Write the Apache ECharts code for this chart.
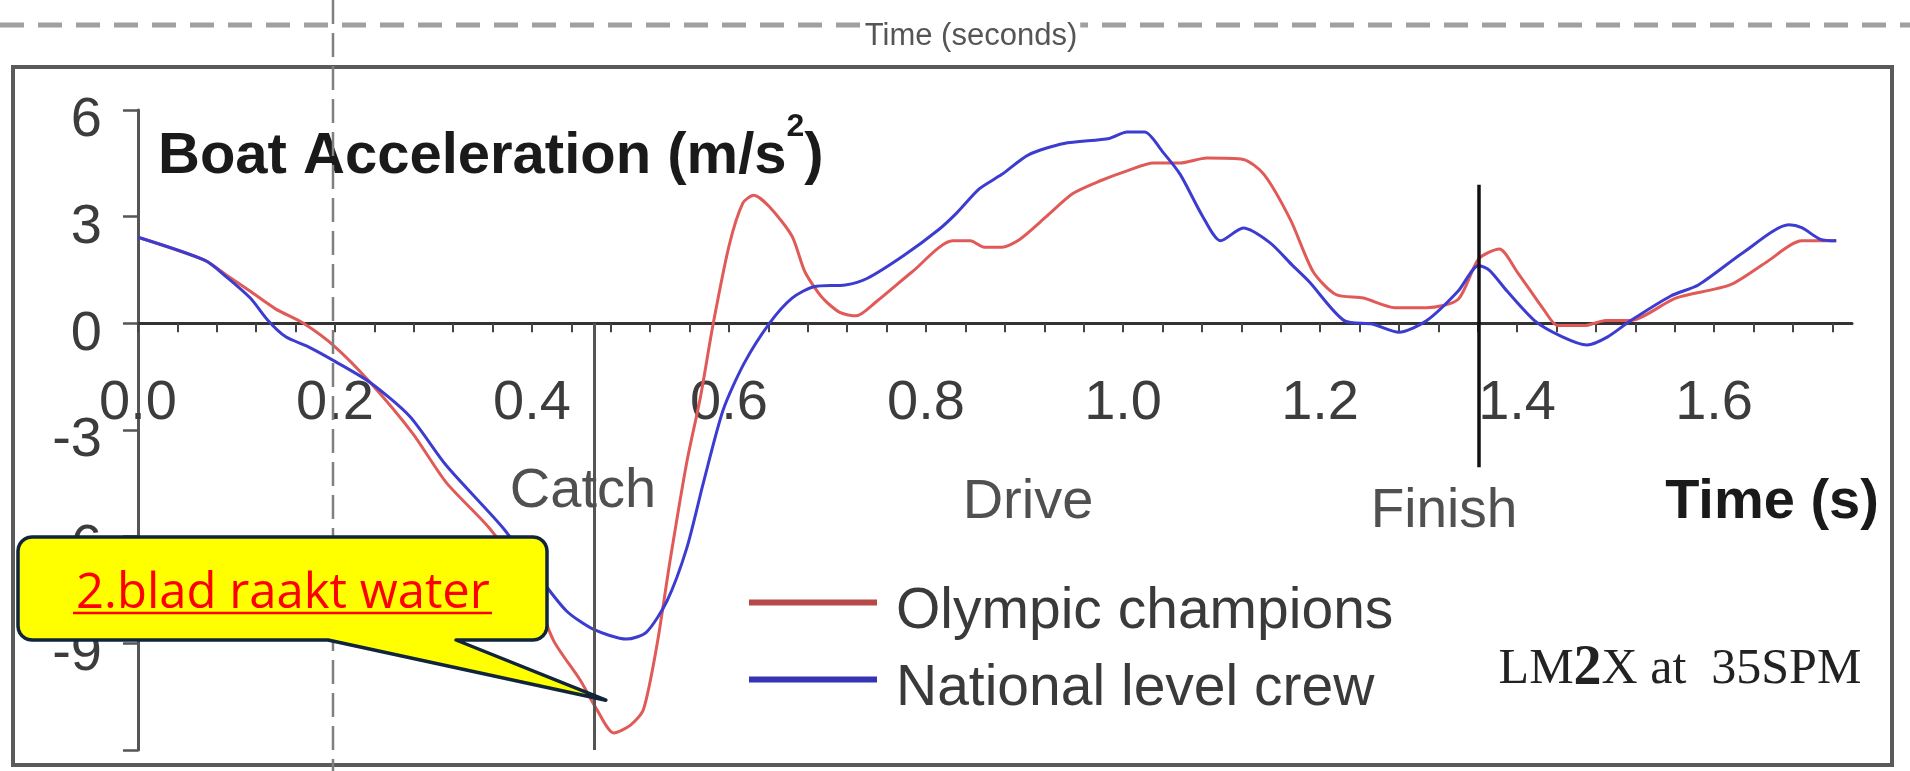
<!DOCTYPE html>
<html><head><meta charset="utf-8">
<script src="https://cdn.jsdelivr.net/npm/echarts@6/dist/echarts.min.js"></script>
<style>html,body{margin:0;padding:0;background:#fff}#c{width:1910px;height:771px}</style>
</head><body><div id="c"></div>
<script>
// ---- data ----
const seriesNames = ['Olympic champions', 'National level crew'];
// [time (s), boat acceleration (m/s^2)]
const olympic = [
  [0, 2.42], [0.068, 1.77], [0.09, 1.35], [0.114, 0.9], [0.14, 0.4], [0.168, 0], [0.2, -0.66],
  [0.236, -1.67], [0.279, -3.1], [0.313, -4.48], [0.357, -5.77], [0.398, -7.35], [0.422, -8.93],
  [0.449, -10.04], [0.466, -10.87], [0.483, -11.52], [0.5, -11.3], [0.513, -10.87], [0.527, -9.02],
  [0.54, -6.7], [0.557, -3.92], [0.571, -2.07], [0.584, 0], [0.6, 2.18], [0.614, 3.38], [0.625, 3.6],
  [0.641, 3.28], [0.664, 2.45], [0.677, 1.45], [0.695, 0.71], [0.713, 0.3], [0.729, 0.21], [0.75, 0.62],
  [0.786, 1.45], [0.827, 2.32], [0.845, 2.32], [0.859, 2.14], [0.877, 2.14], [0.895, 2.36], [0.922, 3.0],
  [0.949, 3.65], [0.977, 4.01], [1.004, 4.29], [1.031, 4.51], [1.058, 4.51], [1.085, 4.65], [1.122, 4.61],
  [1.143, 4.19], [1.17, 2.91], [1.193, 1.45], [1.216, 0.81], [1.244, 0.71], [1.276, 0.44], [1.308, 0.44],
  [1.34, 0.67], [1.361, 1.81], [1.382, 2.09], [1.4, 1.45], [1.428, 0.35], [1.441, -0.06], [1.469, -0.06],
  [1.49, 0.08], [1.515, 0.08], [1.561, 0.71], [1.616, 1.08], [1.653, 1.72], [1.689, 2.32], [1.724, 2.32]
];
const national = [
  [0, 2.42], [0.068, 1.77], [0.09, 1.3], [0.114, 0.71], [0.132, 0.08], [0.15, -0.38], [0.173, -0.66],
  [0.2, -1.07], [0.236, -1.67], [0.276, -2.62], [0.313, -4.0], [0.371, -5.77], [0.408, -7.16],
  [0.435, -8.09], [0.462, -8.6], [0.496, -8.88], [0.516, -8.69], [0.537, -7.81], [0.557, -6.33],
  [0.574, -4.48], [0.594, -2.44], [0.615, -1.14], [0.641, 0], [0.664, 0.71], [0.686, 1.03], [0.718, 1.08],
  [0.74, 1.26], [0.777, 1.9], [0.813, 2.64], [0.831, 3.1], [0.854, 3.78], [0.877, 4.19], [0.904, 4.74],
  [0.94, 5.06], [0.986, 5.2], [1.004, 5.38], [1.022, 5.38], [1.04, 4.83], [1.058, 4.19], [1.081, 3.0],
  [1.099, 2.32], [1.122, 2.68], [1.149, 2.27], [1.172, 1.63], [1.189, 1.17], [1.225, 0.07], [1.253, -0.02],
  [1.28, -0.25], [1.308, 0.07], [1.34, 0.9], [1.361, 1.63], [1.372, 1.49], [1.39, 0.9], [1.418, 0.07],
  [1.446, -0.38], [1.471, -0.61], [1.492, -0.38], [1.515, 0.07], [1.556, 0.77], [1.584, 1.08], [1.63, 2.0],
  [1.676, 2.77], [1.689, 2.69], [1.708, 2.36], [1.724, 2.32]
];
const xTickLabels = [0, 0.2, 0.4, 0.6, 0.8, 1.0, 1.2, 1.4, 1.6];
const yTickLabels = [-9, -6, -3, 0, 3, 6];
const yTicks = [-12, -9, -6, -3, 0, 3, 6];
const xRange = [0, 1.74];
const yRange = [-12, 6];
const catchTime = 0.463;
const finishTime = 1.361;
const finishRange = [-4.05, 3.9];
const calloutTarget = [0.475, -10.6];
const phaseLabels = ['Catch', 'Drive', 'Finish'];
const texts = {
  yTitle: 'Boat Acceleration (m/s', ySup: '2', xTitle: 'Time (s)', topTitle: 'Time (seconds)',
  note: 'LM2X at  35SPM', callout: '2.blad raakt water'
};

const xTicks = [];
for (let i = 0; i * 0.04 <= 1.721; i++) xTicks.push(+(i * 0.04).toFixed(2));

const FONT = "'Liberation Sans', Arial, sans-serif";
const chart = echarts.init(document.getElementById('c'), null, { renderer: 'canvas' });

// plot area in pixels
const G = { left: 138, right: 58, top: 110, bottom: 21 };
const plotH = 771 - G.top - G.bottom;
const zeroOffset = plotH * (yRange[1] - 0) / (yRange[1] - yRange[0]); // height of the positive part

const option = {
  backgroundColor: '#ffffff',
  animation: false,
  grid: [
    { left: G.left, right: G.right, top: G.top, bottom: G.bottom, containLabel: false, outerBoundsMode: 'none' },
    // upper half of the plot: its bottom edge is the zero line, carrying the time axis
    { left: G.left, right: G.right, top: G.top, height: zeroOffset, containLabel: false, outerBoundsMode: 'none' }
  ],
  xAxis: [
    { gridIndex: 0, type: 'value', min: xRange[0], max: xRange[1], show: false },
    {
      gridIndex: 1, type: 'value', min: xRange[0], max: xRange[1], position: 'bottom',
      axisLine: { show: true, onZero: false, lineStyle: { color: '#333', width: 3 } },
      axisTick: { show: true, customValues: xTicks, length: 9, lineStyle: { color: '#444', width: 2 } },
      axisLabel: {
        customValues: xTickLabels, formatter: v => Number(v).toFixed(1),
        margin: 80, verticalAlign: 'middle', fontSize: 56, color: '#3c3c3c', fontFamily: FONT
      },
      splitLine: { show: false }
    }
  ],
  yAxis: [
    {
      gridIndex: 0, type: 'value', min: yRange[0], max: yRange[1],
      axisLine: { show: true, onZero: false, lineStyle: { color: '#555', width: 3 } },
      axisTick: { show: true, customValues: yTicks, length: 15, lineStyle: { color: '#555', width: 2.5 } },
      axisLabel: {
        customValues: yTickLabels, margin: 36, fontSize: 56, color: '#3c3c3c', fontFamily: FONT,
        verticalAlign: 'top', lineHeight: 22
      },
      splitLine: { show: false }
    },
    { gridIndex: 1, type: 'value', min: 0, max: 1, show: false }
  ],
  legend: {
    orient: 'vertical', left: 744, top: 559, itemWidth: 128, itemHeight: 6, itemGap: 0, icon: 'rect',
    data: [
      { name: seriesNames[0], itemStyle: { color: '#b64a48' } },
      { name: seriesNames[1], itemStyle: { color: '#3434b4' } }
    ],
    formatter: '{a|{name}}',
    textStyle: {
      fontSize: 57, color: '#3a3a3a', fontFamily: FONT,
      rich: { a: { fontSize: 57, lineHeight: 60, color: '#3a3a3a', fontFamily: FONT, padding: [20, 0, 0, 14] } }
    }
  },
  series: [
    {
      name: seriesNames[0], type: 'line', xAxisIndex: 0, yAxisIndex: 0, data: olympic, showSymbol: false,
      smooth: 0.25, z: 3, lineStyle: { color: '#e05a58', width: 3 }, itemStyle: { color: '#e05a58' },
      markLine: {
        silent: true, symbol: ['none', 'none'], label: { show: false }, animation: false,
        data: [
          [{ coord: [catchTime, 0], lineStyle: { color: '#555', width: 3, type: 'solid' } }, { coord: [catchTime, yRange[0]] }],
          [{ coord: [finishTime, finishRange[0]], lineStyle: { color: '#111', width: 3.5, type: 'solid' } }, { coord: [finishTime, finishRange[1]] }]
        ]
      }
    },
    {
      name: seriesNames[1], type: 'line', xAxisIndex: 0, yAxisIndex: 0, data: national, showSymbol: false,
      smooth: 0.25, z: 4, lineStyle: { color: '#3c3cd0', width: 3 }, itemStyle: { color: '#3c3cd0' }
    }
  ]
};
chart.setOption(option);

// ---- annotations ----
const tip = chart.convertToPixel({ gridIndex: 0 }, calloutTarget);
function calloutPoints(L, T, R, B, r, tb1, tb2, tipPt) {
  const pts = [];
  const arc = (cx, cy, a0, a1) => {
    for (let i = 0; i <= 6; i++) {
      const a = a0 + (a1 - a0) * i / 6;
      pts.push([cx + r * Math.cos(a), cy + r * Math.sin(a)]);
    }
  };
  arc(L + r, T + r, Math.PI, 1.5 * Math.PI);      // top-left
  arc(R - r, T + r, 1.5 * Math.PI, 2 * Math.PI);  // top-right
  arc(R - r, B - r, 0, 0.5 * Math.PI);            // bottom-right
  pts.push([tb2, B], tipPt, [tb1, B]);
  arc(L + r, B - r, 0.5 * Math.PI, Math.PI);      // bottom-left
  return pts;
}
const bubble = calloutPoints(18, 537, 547, 640, 14, 328, 456, tip);

chart.setOption({
  graphic: [
    { type: 'rect', z: 1, shape: { x: 13, y: 67, width: 1879, height: 698 }, style: { fill: null, stroke: '#5a5a5a', lineWidth: 4 } },
    { type: 'line', z: 50, shape: { x1: 0, y1: 25, x2: 1910, y2: 25 }, style: { stroke: '#a0a0a0', lineWidth: 5, lineDash: [24, 14] } },
    { type: 'text', z: 51, x: 971, y: 36, style: { text: texts.topTitle, fontSize: 31, fontFamily: FONT, fill: '#555', align: 'center', verticalAlign: 'middle', backgroundColor: '#fff', padding: [2, 3] } },
    { type: 'text', z: 5, x: 158, y: 157, style: {
        text: '{t|' + texts.yTitle + '}{s|' + texts.ySup + '}{t|)}', align: 'left', verticalAlign: 'middle',
        rich: {
          t: { fontSize: 58, fontWeight: 'bold', fontFamily: FONT, fill: '#1a1a1a', lineHeight: 58 },
          s: { fontSize: 32, fontWeight: 'bold', fontFamily: FONT, fill: '#1a1a1a', lineHeight: 32, padding: [0, 0, 60, 0] }
        } } },
    { type: 'text', z: 5, x: 583, y: 492, style: { text: phaseLabels[0], fontSize: 56, fontFamily: FONT, fill: '#505050', align: 'center', verticalAlign: 'middle' } },
    { type: 'text', z: 5, x: 1028, y: 503, style: { text: phaseLabels[1], fontSize: 56, fontFamily: FONT, fill: '#505050', align: 'center', verticalAlign: 'middle' } },
    { type: 'text', z: 5, x: 1444, y: 512, style: { text: phaseLabels[2], fontSize: 55, fontFamily: FONT, fill: '#505050', align: 'center', verticalAlign: 'middle' } },
    { type: 'text', z: 5, x: 1772, y: 503, style: { text: texts.xTitle, fontSize: 56, fontWeight: 'bold', fontFamily: FONT, fill: '#1a1a1a', align: 'center', verticalAlign: 'middle' } },
    { type: 'text', z: 5, x: 1680, y: 670, style: {
        text: '{a|LM}{b|2}{a|X at  35SPM}', align: 'center', verticalAlign: 'middle',
        rich: {
          a: { fontSize: 50, fontFamily: "'Liberation Serif', 'DejaVu Serif', serif", fill: '#222' },
          b: { fontSize: 56, fontWeight: 'bold', fontFamily: "'Liberation Serif', 'DejaVu Serif', serif", fill: '#222' }
        } } },
    { type: 'line', z: 60, shape: { x1: 333, y1: 0, x2: 333, y2: 771 }, style: { stroke: '#808080', lineWidth: 2.5, lineDash: [24, 9] } },
    { type: 'polygon', z: 70, shape: { points: bubble }, style: { fill: '#ffff00', stroke: '#10243a', lineWidth: 3.5, lineJoin: 'round' } },
    { type: 'text', z: 71, x: 283, y: 594, style: { text: texts.callout, fontSize: 49, fontFamily: "'Open Sans', 'Noto Sans', sans-serif", fill: '#ff0000', align: 'center', verticalAlign: 'middle' } },
    { type: 'line', z: 71, shape: { x1: 73, y1: 613, x2: 492, y2: 613 }, style: { stroke: '#ff0000', lineWidth: 2.5 } }
  ]
});
</script>
</body></html>
